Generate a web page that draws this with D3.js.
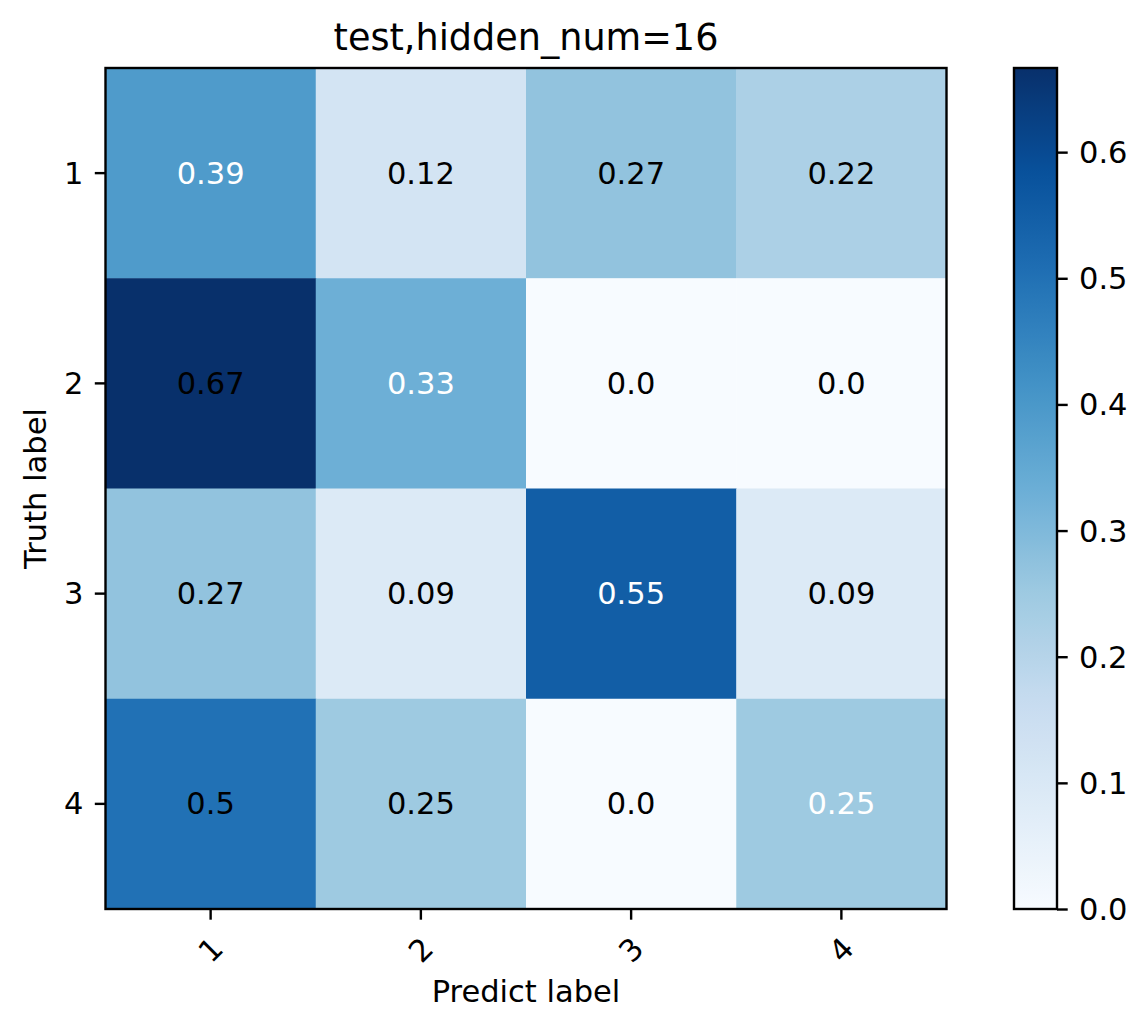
<!DOCTYPE html>
<html>
<head>
<meta charset="utf-8">
<script src="https://cdn.jsdelivr.net/npm/d3@7"></script>
<style>
  body { margin: 0; background: #fff; }
  text { font-family: "DejaVu Sans", sans-serif; }
</style>
</head>
<body>
<div id="chart"></div>
<script>
// confusion matrix
var predLabels = ['1', '2', '3', '4'];
var truthLabels = ['1', '2', '3', '4'];
var row1 = [0.39, 0.12, 0.27, 0.22];
var row2 = [0.67, 0.33, 0.0, 0.0];
var row3 = [0.27, 0.09, 0.55, 0.09];
var row4 = [0.5, 0.25, 0.0, 0.25];
var matrix = [row1, row2, row3, row4];
var cbarTicks = [0.0, 0.1, 0.2, 0.3, 0.4, 0.5, 0.6];
var vmax = 0.6667;

// matplotlib "Blues" is a linear ramp over these 9 colours
var blues = ['#f7fbff', '#deebf7', '#c6dbef', '#9ecae1', '#6baed6',
  '#4292c6', '#2171b5', '#08519c', '#08306b'];

var W = 1148, H = 1031;
// plot box (window.top is reserved, so prefix these)
var pLeft = 105.5, pTop = 68, pRight = 946.5, pBottom = 909;
var cbLeft = 1014, cbRight = 1057;
var fs = 30.5;
var tick = 10.7, lw = 2.4;

var svg = d3.select('#chart').append('svg')
  .attr('width', W)
  .attr('height', H);

var color = d3.scaleLinear()
  .domain(d3.range(blues.length).map(function(i) { return i / (blues.length - 1) * vmax; }))
  .range(blues)
  .interpolate(d3.interpolateRgb)
  .clamp(true);

// python-like str() of a rounded float: 0.0, 0.5, 0.39
function pyStr(v) {
  return v === Math.round(v * 10) / 10 ? v.toFixed(1) : String(v);
}

var x = d3.scaleBand().domain(predLabels).range([pLeft, pRight]);
var y = d3.scaleBand().domain(truthLabels).range([pTop, pBottom]);

var cells = [];
matrix.forEach(function(row, i) {
  row.forEach(function(v, j) {
    cells.push({ r: truthLabels[i], c: predLabels[j], v: v, diag: i === j });
  });
});

svg.selectAll('rect.cell')
  .data(cells)
  .enter()
  .append('rect')
  .attr('class', 'cell')
  .attr('x', function(d) { return x(d.c); })
  .attr('y', function(d) { return y(d.r); })
  .attr('width', x.bandwidth() + 0.5)
  .attr('height', y.bandwidth() + 0.5)
  .attr('fill', function(d) { return color(d.v); });

svg.selectAll('text.val')
  .data(cells)
  .enter()
  .append('text')
  .attr('class', 'val')
  .attr('x', function(d) { return x(d.c) + x.bandwidth() / 2; })
  .attr('y', function(d) { return y(d.r) + y.bandwidth() / 2; })
  .attr('text-anchor', 'middle')
  .attr('dominant-baseline', 'central')
  .attr('font-size', fs)
  .attr('fill', function(d) { return d.diag ? '#fff' : '#000'; })
  .text(function(d) { return pyStr(d.v); });

// frame
svg.append('rect')
  .attr('x', pLeft).attr('y', pTop)
  .attr('width', pRight - pLeft).attr('height', pBottom - pTop)
  .attr('fill', 'none').attr('stroke', '#000').attr('stroke-width', lw);

// x axis
var xAxis = svg.append('g')
  .attr('transform', 'translate(0,' + pBottom + ')')
  .call(d3.axisBottom(x).tickSize(tick).tickSizeOuter(0));
xAxis.select('.domain').remove();
xAxis.selectAll('.tick line').attr('stroke-width', lw);
xAxis.selectAll('.tick text')
  .attr('font-size', fs)
  .attr('fill', '#000')
  .attr('y', 0).attr('dy', null)
  .attr('text-anchor', 'middle')
  .attr('dominant-baseline', 'central')
  .attr('transform', 'translate(0,41) rotate(-45)');

// y axis
var yAxis = svg.append('g')
  .attr('transform', 'translate(' + pLeft + ',0)')
  .call(d3.axisLeft(y).tickSize(tick).tickSizeOuter(0));
yAxis.select('.domain').remove();
yAxis.selectAll('.tick line').attr('stroke-width', lw);
yAxis.selectAll('.tick text')
  .attr('font-size', fs)
  .attr('fill', '#000')
  .attr('x', -22).attr('dy', null)
  .attr('dominant-baseline', 'central');

// labels
svg.append('text')
  .attr('x', (pLeft + pRight) / 2).attr('y', 50)
  .attr('text-anchor', 'middle')
  .attr('font-size', 36.6)
  .text('test,hidden_num=16');

svg.append('text')
  .attr('x', (pLeft + pRight) / 2).attr('y', 1002)
  .attr('text-anchor', 'middle')
  .attr('font-size', fs)
  .text('Predict label');

svg.append('text')
  .attr('transform', 'translate(46,' + ((pTop + pBottom) / 2) + ') rotate(-90)')
  .attr('text-anchor', 'middle')
  .attr('font-size', fs)
  .text('Truth label');

// colorbar
var cb = d3.scaleLinear().domain([0, vmax]).range([pBottom, pTop]);
var grad = svg.append('defs').append('linearGradient')
  .attr('id', 'cbgrad')
  .attr('x1', 0).attr('y1', 1).attr('x2', 0).attr('y2', 0);
grad.selectAll('stop')
  .data(d3.range(0, 1.0001, 0.02))
  .enter()
  .append('stop')
  .attr('offset', function(t) { return t; })
  .attr('stop-color', function(t) { return color(t * vmax); });

svg.append('rect')
  .attr('x', cbLeft).attr('y', pTop)
  .attr('width', cbRight - cbLeft).attr('height', pBottom - pTop)
  .attr('fill', 'url(#cbgrad)')
  .attr('stroke', '#000').attr('stroke-width', lw);

var cbAxis = svg.append('g')
  .attr('transform', 'translate(' + cbRight + ',0)')
  .call(d3.axisRight(cb).tickValues(cbarTicks).tickFormat(d3.format('.1f')).tickSize(tick));
cbAxis.select('.domain').remove();
cbAxis.selectAll('.tick line').attr('stroke-width', lw);
cbAxis.selectAll('.tick text')
  .attr('font-size', fs)
  .attr('fill', '#000')
  .attr('x', 22).attr('dy', null)
  .attr('dominant-baseline', 'central');
</script>
</body>
</html>
